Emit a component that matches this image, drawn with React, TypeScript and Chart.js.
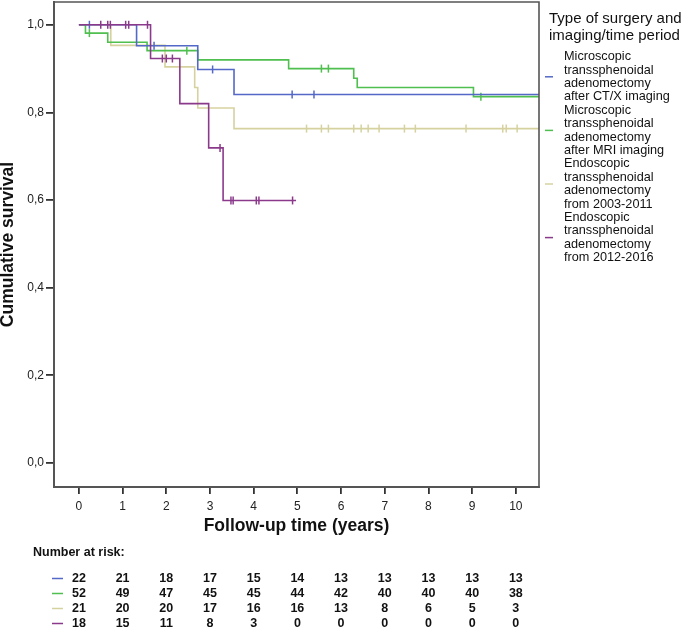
import React, { useEffect, useRef } from 'react';
import { Chart, registerables } from 'chart.js';

Chart.register(...registerables);

const FONT = '"Liberation Sans", Arial, Helvetica, sans-serif';

// ---- Data ----
const xTicks = [0, 1, 2, 3, 4, 5, 6, 7, 8, 9, 10];
const yTicks = [0, 0.2, 0.4, 0.6, 0.8, 1.0];

const legendTitle = ['Type of surgery and', 'imaging/time period'];
const groupLabels = [
  ['Microscopic', 'transsphenoidal', 'adenomectomy', 'after CT/X imaging'],
  ['Microscopic', 'transsphenoidal', 'adenomectomy', 'after MRI imaging'],
  ['Endoscopic', 'transsphenoidal', 'adenomectomy', 'from 2003-2011'],
  ['Endoscopic', 'transsphenoidal', 'adenomectomy', 'from 2012-2016'],
];
const groupColors = ['#5468c8', '#4fbf4f', '#d6d2a0', '#8b3a8b'];

// Microscopic after CT/X
const ctEventTimes = [1.32, 2.72, 3.55];
const ctSurvival = [0.952, 0.898, 0.841];
const ctCensorTimes = [0.24, 1.72, 3.06, 4.88, 5.38];
const ctLastFollowUp = 10.8;

// Microscopic after MRI
const mriEventTimes = [0.15, 0.66, 1.56, 2.72, 4.8, 6.29, 6.37, 9.03];
const mriSurvival = [0.981, 0.96, 0.941, 0.92, 0.9, 0.878, 0.857, 0.836];
const mriCensorTimes = [0.24, 2.47, 5.55, 5.71, 9.2];
const mriLastFollowUp = 10.8;

// Endoscopic 2003-2011
const endoAEventTimes = [0.73, 1.97, 2.65, 2.72, 3.55];
const endoASurvival = [0.953, 0.904, 0.857, 0.81, 0.763];
const endoACensorTimes = [5.21, 5.55, 5.71, 6.29, 6.46, 6.62, 6.87, 7.45, 7.7, 8.86, 9.7, 9.78, 10.03];
const endoALastFollowUp = 10.8;

// Endoscopic 2012-2016
const endoBEventTimes = [1.64, 2.31, 2.97, 3.3];
const endoBSurvival = [0.923, 0.82, 0.719, 0.599];
const endoBCensorTimes = [0.5, 0.66, 0.72, 1.07, 1.14, 1.57, 1.91, 2.0, 2.14, 3.23, 3.48, 3.53, 4.06, 4.12, 4.89];
const endoBLastFollowUp = 4.97;

// Number at risk
const riskCT = [22, 21, 18, 17, 15, 14, 13, 13, 13, 13, 13];
const riskMRI = [52, 49, 47, 45, 45, 44, 42, 40, 40, 40, 38];
const riskEndoA = [21, 20, 20, 17, 16, 16, 13, 8, 6, 5, 3];
const riskEndoB = [18, 15, 11, 8, 3, 0, 0, 0, 0, 0, 0];

const groups = [
  { ev: ctEventTimes, s: ctSurvival, c: ctCensorTimes, end: ctLastFollowUp, risk: riskCT },
  { ev: mriEventTimes, s: mriSurvival, c: mriCensorTimes, end: mriLastFollowUp, risk: riskMRI },
  { ev: endoAEventTimes, s: endoASurvival, c: endoACensorTimes, end: endoALastFollowUp, risk: riskEndoA },
  { ev: endoBEventTimes, s: endoBSurvival, c: endoBCensorTimes, end: endoBLastFollowUp, risk: riskEndoB },
];

function survivalAt(ev: number[], s: number[], t: number) {
  let v = 1;
  for (let i = 0; i < ev.length; i++) if (ev[i] <= t) v = s[i];
  return v;
}

export default function App() {
  const ref = useRef<HTMLCanvasElement | null>(null);

  useEffect(() => {
    const canvas = ref.current;
    if (!canvas) return;

    // bottom-to-top drawing order: beige, green, blue, purple
    const drawOrder = [2, 1, 0, 3];
    const built: any[] = [];
    drawOrder.forEach((gi) => {
      const g = groups[gi];
      const col = groupColors[gi];
      const line = [{ x: 0, y: 1 }];
      g.ev.forEach((t, i) => line.push({ x: t, y: g.s[i] }));
      line.push({ x: g.end, y: g.s[g.s.length - 1] });
      built.push({
        data: line,
        borderColor: col,
        borderWidth: 1.6,
        stepped: 'before',
        pointRadius: 0,
        fill: false,
      });
      built.push({
        data: g.c.map((t) => ({ x: t, y: survivalAt(g.ev, g.s, t) })),
        showLine: false,
        pointStyle: 'line',
        rotation: 90,
        pointRadius: 4,
        pointBorderWidth: 1.5,
        pointBorderColor: col,
        pointBackgroundColor: col,
        borderColor: col,
      });
    });
    // Chart.js draws first dataset on top, so reverse
    const datasets = built.reverse();

    const extras = {
      id: 'extras',
      afterDraw(chart: any) {
        const ctx = chart.ctx;
        const { left, right, top, bottom } = chart.chartArea;
        ctx.save();
        // frame top/right
        ctx.strokeStyle = '#555';
        ctx.lineWidth = 1.6;
        ctx.beginPath();
        ctx.moveTo(left - 1, top);
        ctx.lineTo(right, top);
        ctx.lineTo(right, bottom + 1);
        ctx.stroke();

        // legend
        ctx.fillStyle = '#111';
        ctx.textAlign = 'left';
        ctx.textBaseline = 'middle';
        ctx.font = `15px ${FONT}`;
        legendTitle.forEach((t, i) => ctx.fillText(t, 549, 19 + i * 16.5));
        ctx.font = `12.7px ${FONT}`;
        groupLabels.forEach((lines, gi) => {
          const y0 = 56.7 + gi * 53.6;
          lines.forEach((t, k) => ctx.fillText(t, 564, y0 + k * 13.4));
          ctx.strokeStyle = groupColors[gi];
          ctx.lineWidth = 1.5;
          ctx.beginPath();
          ctx.moveTo(545, y0 + 20.1);
          ctx.lineTo(553, y0 + 20.1);
          ctx.stroke();
        });

        // number at risk table
        ctx.font = `bold 12.5px ${FONT}`;
        ctx.fillStyle = '#111';
        ctx.fillText('Number at risk:', 33, 553);
        const xs = chart.scales.x;
        groups.forEach((g, gi) => {
          const y = 578.5 + gi * 15;
          ctx.strokeStyle = groupColors[gi];
          ctx.lineWidth = 1.5;
          ctx.beginPath();
          ctx.moveTo(52, y);
          ctx.lineTo(63, y);
          ctx.stroke();
          ctx.textAlign = 'center';
          g.risk.forEach((n, i) => {
            ctx.fillText(String(n), xs.getPixelForValue(xTicks[i]), y);
          });
          ctx.textAlign = 'left';
        });
        ctx.restore();
      },
    };

    const chart = new Chart(canvas, {
      type: 'line',
      data: { datasets },
      options: {
        animation: false,
        responsive: false,
        devicePixelRatio: 1,
        events: [],
        layout: { autoPadding: false, padding: { left: 0, right: 146, top: 2, bottom: 89 } },
        plugins: { legend: { display: false }, tooltip: { enabled: false } },
        scales: {
          x: {
            type: 'linear',
            min: -0.57,
            max: 10.53,
            afterBuildTicks: (scale: any) => {
              scale.ticks = xTicks.map((v) => ({ value: v }));
            },
            afterFit: (scale: any) => {
              scale.height = 53;
              scale.paddingLeft = 0;
              scale.paddingRight = 0;
            },
            ticks: {
              autoSkip: false,
              maxRotation: 0,
              padding: 5,
              color: '#222',
              font: { family: FONT, size: 12 },
              callback: (v: any) => String(v),
            },
            grid: { drawOnChartArea: false, drawTicks: true, tickLength: 7, color: '#333', lineWidth: 1.8 },
            border: { display: true, color: '#555', width: 2 },
            title: {
              display: true,
              text: 'Follow-up time (years)',
              color: '#111',
              font: { family: FONT, size: 17.5, weight: 'bold' },
              padding: { top: 0, bottom: 3.5 },
            },
          },
          y: {
            type: 'linear',
            min: -0.055,
            max: 1.052,
            afterBuildTicks: (scale: any) => {
              scale.ticks = yTicks.map((v) => ({ value: v }));
            },
            afterFit: (scale: any) => {
              scale.width = 54;
              scale.paddingTop = 0;
              scale.paddingBottom = 0;
            },
            ticks: {
              padding: 2,
              color: '#222',
              font: { family: FONT, size: 12 },
              callback: (v: any) => Number(v).toFixed(1).replace('.', ','),
            },
            grid: { drawOnChartArea: false, drawTicks: true, tickLength: 8, color: '#333', lineWidth: 1.8 },
            border: { display: true, color: '#555', width: 2 },
            title: {
              display: true,
              text: 'Cumulative survival',
              color: '#111',
              font: { family: FONT, size: 17.5, weight: 'bold', lineHeight: 0.9 },
              padding: { top: 0, bottom: 0 },
            },
          },
        },
      },
      plugins: [extras],
    } as any);

    return () => chart.destroy();
  }, []);

  return (
    <div style={{ position: 'fixed', left: 0, top: 0, width: 685, height: 629, background: '#fff' }}>
      <canvas ref={ref} width={685} height={629} style={{ display: 'block', width: 685, height: 629 }} />
    </div>
  );
}
